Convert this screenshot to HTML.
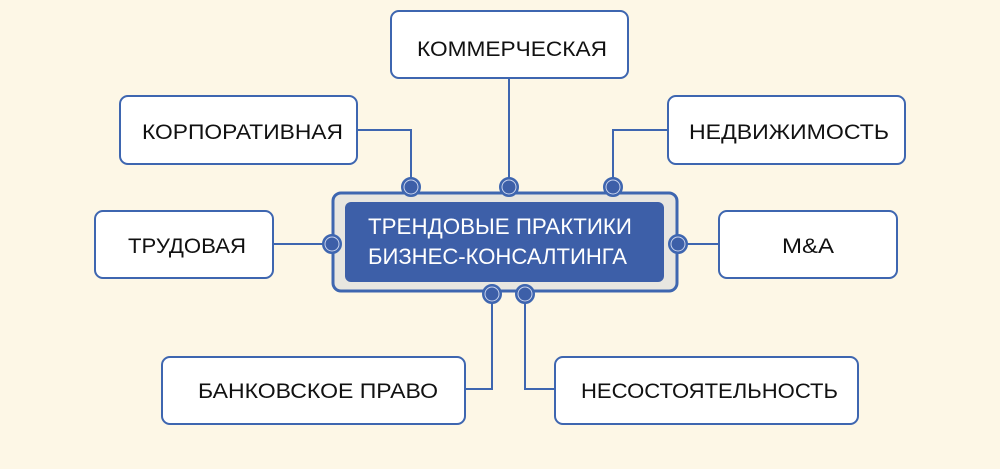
<!DOCTYPE html>
<html><head><meta charset="utf-8"><style>
body{margin:0;background:#fdf7e6;}
svg{display:block}
text{font-family:"Liberation Sans","DejaVu Sans",sans-serif;font-size:21px;fill:#111;}
</style></head><body>
<svg width="1000" height="469" viewBox="0 0 1000 469">
<rect width="1000" height="469" fill="#fdf7e6"/>
<g fill="none" stroke="#3e66b0" stroke-width="2">
<path d="M357 130H411V187"/>
<path d="M509 78V187"/>
<path d="M668 130H613V187"/>
<path d="M273 244H332"/>
<path d="M678 244H719"/>
<path d="M492 294V389H465"/>
<path d="M525 294V389H555"/>
</g>
<g fill="#fff" stroke="#3e66b0" stroke-width="2">
<rect x="391" y="11" width="237" height="67" rx="8"/>
<rect x="120" y="96" width="237" height="68" rx="8"/>
<rect x="668" y="96" width="237" height="68" rx="8"/>
<rect x="95" y="211" width="178" height="67" rx="8"/>
<rect x="719" y="211" width="178" height="67" rx="8"/>
<rect x="162" y="357" width="303" height="67" rx="8"/>
<rect x="555" y="357" width="303" height="67" rx="8"/>
</g>
<text x="417" y="56" textLength="190" lengthAdjust="spacingAndGlyphs">КОММЕРЧЕСКАЯ</text>
<text x="142" y="139" textLength="201" lengthAdjust="spacingAndGlyphs">КОРПОРАТИВНАЯ</text>
<text x="689" y="139" textLength="200" lengthAdjust="spacingAndGlyphs">НЕДВИЖИМОСТЬ</text>
<text x="128" y="253" textLength="118" lengthAdjust="spacingAndGlyphs">ТРУДОВАЯ</text>
<text x="782" y="253" textLength="52" lengthAdjust="spacingAndGlyphs">M&amp;A</text>
<text x="198" y="398" textLength="240" lengthAdjust="spacingAndGlyphs">БАНКОВСКОЕ ПРАВО</text>
<text x="581" y="398" textLength="257" lengthAdjust="spacingAndGlyphs">НЕСОСТОЯТЕЛЬНОСТЬ</text>
<rect x="333" y="193" width="344" height="98" rx="8" fill="#e8e6e0" stroke="#3e66b0" stroke-width="3"/>
<rect x="345" y="202" width="319" height="80" rx="6" fill="#3d5fa8"/>
<text x="368" y="234" textLength="264" lengthAdjust="spacingAndGlyphs" style="fill:#fff;font-size:22px">ТРЕНДОВЫЕ ПРАКТИКИ</text>
<text x="368" y="264" textLength="259" lengthAdjust="spacingAndGlyphs" style="fill:#fff;font-size:22px">БИЗНЕС-КОНСАЛТИНГА</text>
<g fill="#3d5fa8" stroke="#3e66b0" stroke-width="2">
<circle cx="411" cy="187" r="9"/><circle cx="509" cy="187" r="9"/><circle cx="613" cy="187" r="9"/>
<circle cx="332" cy="244" r="9"/><circle cx="678" cy="244" r="9"/>
<circle cx="492" cy="294" r="9"/><circle cx="525" cy="294" r="9"/>
</g>
<g fill="none" stroke="#c8d4ee" stroke-width="1">
<circle cx="411" cy="187" r="7"/><circle cx="509" cy="187" r="7"/><circle cx="613" cy="187" r="7"/>
<circle cx="332" cy="244" r="7"/><circle cx="678" cy="244" r="7"/>
<circle cx="492" cy="294" r="7"/><circle cx="525" cy="294" r="7"/>
</g>
</svg>
</body></html>
